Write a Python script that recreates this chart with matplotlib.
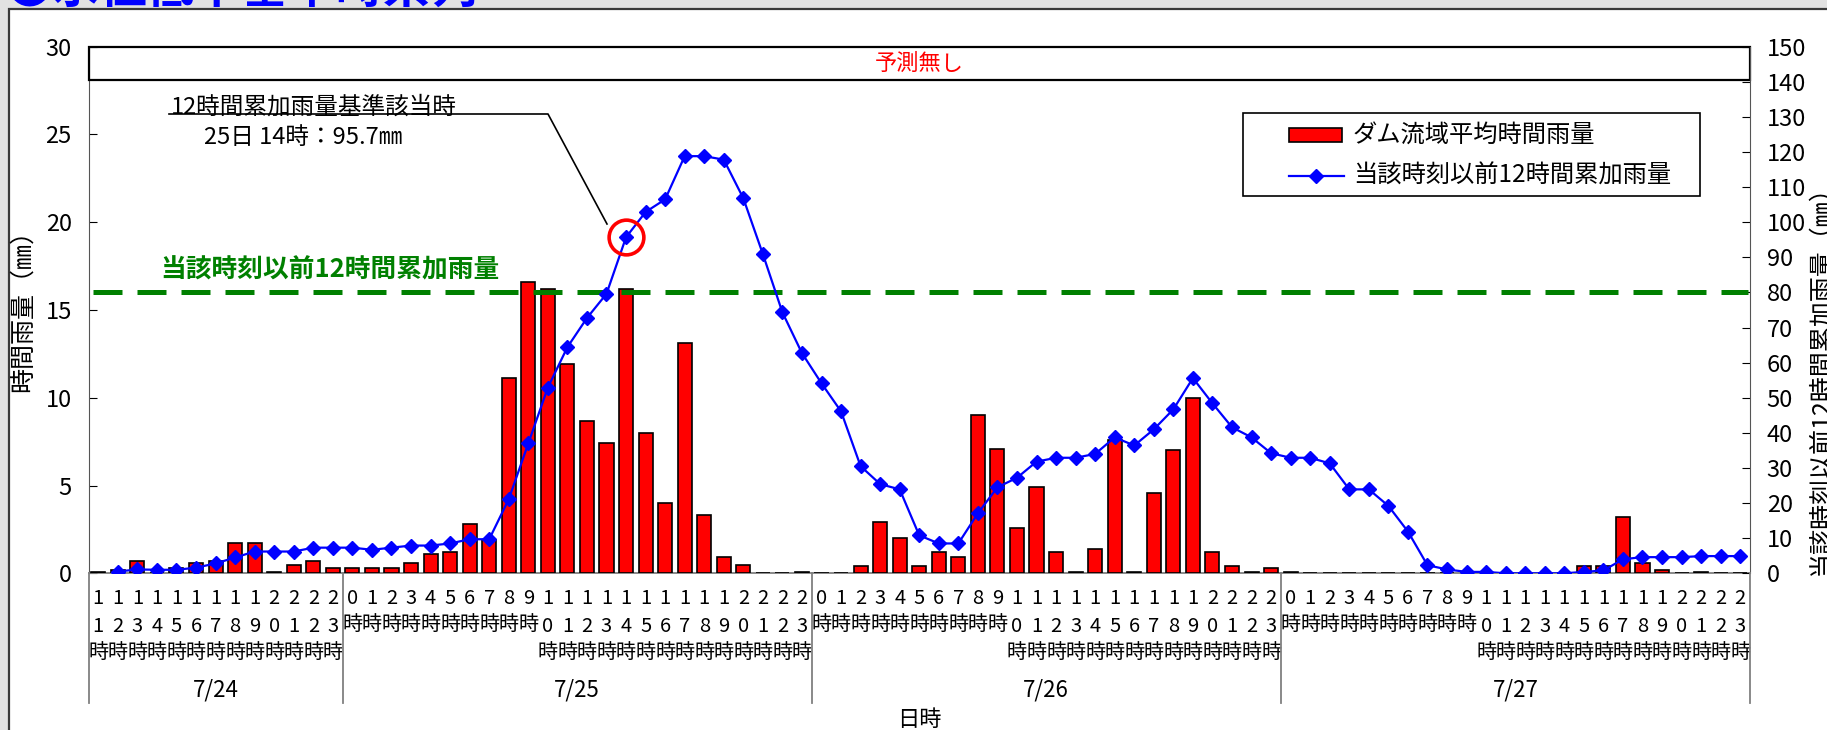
import numpy as np
import matplotlib
matplotlib.use('Agg')
import matplotlib.pyplot as plt
from matplotlib.patches import Rectangle
from matplotlib.lines import Line2D
import matplotlib.transforms as mtransforms

plt.rcParams['font.family'] = ['Noto Sans CJK JP', 'DejaVu Sans']

# ---------------- data ----------------
days = ['7/24', '7/25', '7/26', '7/27']
day_hours = [list(range(11, 24)), list(range(24)), list(range(24)), list(range(24))]

rain_0724 = [0.1, 0.2, 0.7, 0.0, 0.3, 0.6, 0.7, 1.7, 1.7, 0.1, 0.5, 0.7, 0.3]
rain_0725 = [0.3, 0.3, 0.3, 0.6, 1.1, 1.2, 2.8, 1.9, 11.1, 16.6, 16.2, 11.9,
             8.7, 7.4, 16.2, 8.0, 4.0, 13.1, 3.3, 0.9, 0.5, 0.0, 0.0, 0.1]
rain_0726 = [0.0, 0.0, 0.4, 2.9, 2.0, 0.4, 1.2, 0.9, 9.0, 7.1, 2.6, 4.9,
             1.2, 0.1, 1.4, 7.6, 0.1, 4.6, 7.0, 10.0, 1.2, 0.4, 0.1, 0.3]
rain_0727 = [0.1, 0.0, 0.0, 0.0, 0.0, 0.0, 0.0, 0.0, 0.0, 0.0, 0.0, 0.0,
             0.0, 0.0, 0.0, 0.4, 0.4, 3.2, 0.6, 0.2, 0.0, 0.1, 0.0, 0.0]

cum_0724 = [np.nan, 0.5, 1.1, 1.0, 1.0, 1.6, 2.8, 4.5, 6.2, 6.2, 6.2, 7.3, 7.3]
cum_0725 = [7.3, 6.7, 7.3, 7.9, 7.9, 8.5, 9.7, 9.7, 21.1, 37.0, 52.9, 64.4,
            72.7, 79.6, 95.7, 102.9, 106.5, 118.8, 118.8, 117.8, 106.8, 90.9, 74.3, 62.7]
cum_0726 = [54.1, 46.1, 30.5, 25.4, 23.9, 10.8, 8.5, 8.5, 17.1, 24.5, 27.2, 31.8,
            32.9, 32.9, 34.0, 38.7, 36.4, 41.0, 46.7, 55.6, 48.4, 41.6, 38.7, 34.2]
cum_0727 = [32.9, 32.9, 31.3, 23.9, 23.9, 19.2, 11.9, 2.3, 1.1, 0.4, 0.4, 0.0,
            0.0, 0.0, 0.0, 0.4, 0.8, 4.0, 4.6, 4.6, 4.6, 4.9, 4.9, 4.9]

threshold = 80.0          # 12-hour cumulative criterion (right axis)
hit_day, hit_hour = '7/25', 14

rain = rain_0724 + rain_0725 + rain_0726 + rain_0727
cum = cum_0724 + cum_0725 + cum_0726 + cum_0727
hours = [h for hs in day_hours for h in hs]
day_of = [d for d, hs in zip(days, day_hours) for _ in hs]
n = len(rain)

# ---------------- figure ----------------
W, H = 1827, 730
fig = plt.figure(figsize=(W / 100, H / 100), dpi=100)
fig.patch.set_facecolor('#e2e2e2')


def fx(px):
    return px / W


def fy(py):
    return 1 - py / H


# title (mostly clipped at the top edge, as in the source screenshot)
fig.text(fx(6), fy(3), '●水位低下基準時系列', color='#0000ff', fontsize=34,
         fontweight='bold', ha='left', va='baseline', zorder=-2)
# white panel
fig.patches.append(Rectangle((fx(9), -0.02), 1.0, fy(9) + 0.02, transform=fig.transFigure,
                             facecolor='white', edgecolor='#3a3a3a', lw=1.6, zorder=-1))

ax = fig.add_axes([fx(88.5), fy(573.3), fx(1750) - fx(88.5), (573.3 - 46.6) / H])
ax.set_facecolor('none')
x = np.arange(n) + 0.5
ax.bar(x, rain, width=0.72, color='#ff0000', edgecolor='black', lw=1.2, zorder=3)
ax.set_xlim(0, n)
ax.set_ylim(0, 30)
ax.set_xticks([])
ax.set_yticks(range(0, 31, 5))
ax.tick_params(axis='y', direction='in', length=6, pad=12, labelsize=17)

ax2 = ax.twinx()
ax2.set_ylim(0, 150)
ax2.plot(x, cum, color='#0000ff', lw=1.6, marker='D', ms=7, zorder=4)
ax2.set_yticks(range(0, 151, 10))
ax2.tick_params(axis='y', direction='in', length=6, pad=12, labelsize=17)

ax.spines['top'].set_visible(False)
ax2.spines['top'].set_visible(False)
ax.spines['right'].set_visible(False)
ax2.spines['left'].set_visible(False)
ax2.spines['bottom'].set_visible(False)
ax.spines['left'].set_color('#555555')
ax2.spines['right'].set_color('#555555')
ax.spines['bottom'].set_color('#808080')
ax.spines['bottom'].set_linewidth(1.3)

# forecast box
ax.add_patch(Rectangle((0, 28.1), n, 1.9, fill=False, edgecolor='black', lw=1.6,
                       clip_on=False, zorder=5))
ax.text(n / 2, 29.05, '予測無し', color='#ff0000', ha='center', va='center', fontsize=16)

# threshold line
ax2.plot([0.25, n - 0.1], [threshold, threshold], color='#008000', lw=3.6,
         linestyle=(0, (5.8, 3.0)), zorder=2)
ax.text(3.66, 17.27, '当該時刻以前12時間累加雨量', color='#008000', fontsize=18.5,
        fontweight='bold', ha='left', va='center')

# highlight point
hit = [i for i in range(n) if day_of[i] == hit_day and hours[i] == hit_hour][0]
ax2.plot(x[hit], cum[hit], marker='o', ms=25, mfc='none', mec='#ff0000', mew=2.6,
         zorder=6, clip_on=False)

# annotation
fig.text(fx(171), fy(107), '12時間累加雨量基準該当時', fontsize=17, ha='left', va='center')
fig.text(fx(204), fy(138), f'25日 14時：{cum[hit]:.1f}㎜', fontsize=17, ha='left', va='center')
fig.add_artist(Line2D([fx(169), fx(548), fx(607)], [fy(114), fy(114), fy(224)],
                      transform=fig.transFigure, color='black', lw=1.2))

# category labels
bt = mtransforms.blended_transform_factory(ax.transData, fig.transFigure)
for i, h in enumerate(hours):
    s = str(h)
    if len(s) == 2:
        rows = [(s[0], 598), (s[1], 627), ('時', 652)]
    else:
        rows = [(s, 598), ('時', 625)]
    for t, py in rows:
        ax.text(x[i], fy(py), t, transform=bt, ha='center', va='center', fontsize=14.5)

bounds = [0]
for hs in day_hours:
    bounds.append(bounds[-1] + len(hs))
for b in bounds:
    fig.add_artist(Line2D([b, b], [fy(573.3), fy(703)], transform=bt, color='#808080', lw=1.3))
for d, b0, b1 in zip(days, bounds[:-1], bounds[1:]):
    ax.text((b0 + b1) / 2, fy(690), d, transform=bt, ha='center', va='center', fontsize=16)
ax.text(n / 2, fy(720), '日時', transform=bt, ha='center', va='center', fontsize=16)

# axis labels
fig.text(fx(23), fy(305), '時間雨量（㎜）', rotation=90, ha='center', va='center', fontsize=18)
fig.text(fx(1821), fy(375), '当該時刻以前12時間累加雨量（㎜）', rotation=90, ha='center',
         va='center', fontsize=18)

# legend (drawn explicitly to match the boxed layout)
fig.patches.append(Rectangle((fx(1243), fy(196)), fx(1700) - fx(1243), fy(113) - fy(196),
                             transform=fig.transFigure, facecolor='white', edgecolor='black',
                             lw=1.2, zorder=7))
fig.patches.append(Rectangle((fx(1289), fy(142)), fx(1342) - fx(1289), fy(128) - fy(142),
                             transform=fig.transFigure, facecolor='#ff0000', edgecolor='black',
                             lw=1.2, zorder=8))
fig.add_artist(Line2D([fx(1289), fx(1316), fx(1344)], [fy(176)] * 3, transform=fig.transFigure,
                      color='#0000ff', lw=1.6, zorder=8))
fig.add_artist(Line2D([fx(1316)], [fy(176)], transform=fig.transFigure, color='#0000ff',
                      marker='D', ms=7, zorder=9))
legend_labels = ['ダム流域平均時間雨量', '当該時刻以前12時間累加雨量']
for lab, py in zip(legend_labels, [135, 176]):
    fig.text(fx(1353), fy(py), lab, fontsize=17.5, ha='left', va='center', zorder=9)

fig.savefig('out.png', dpi=100)
